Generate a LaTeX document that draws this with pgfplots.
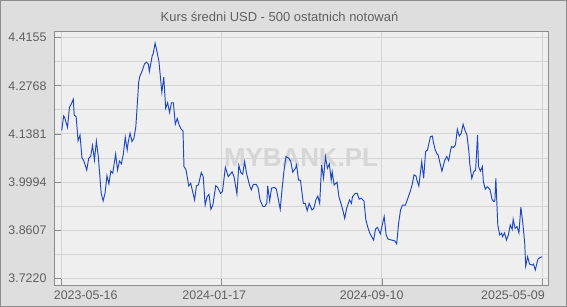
\documentclass[border=0pt]{standalone}
\usepackage{pgfplots}
\pgfplotsset{compat=1.18}
\usepackage{fontspec}
\setmainfont{Liberation Sans}
\definecolor{outerbg}{HTML}{DEDEDE}
\definecolor{plotbg}{HTML}{EFEFEF}
\definecolor{gridc}{HTML}{D4D4D4}
\definecolor{framec}{HTML}{8C8C8C}
\definecolor{textc}{HTML}{606060}
\definecolor{linec}{HTML}{1E48C0}
\definecolor{wmark}{HTML}{D6D6D6}
\begin{document}
\begin{tikzpicture}
\path[use as bounding box] (0bp,0bp) rectangle (567bp,307bp);
\fill[outerbg] (0bp,0bp) rectangle (567bp,307bp);
\draw[framec, line width=1bp] (0.5bp,0.5bp) rectangle (566.5bp,306.5bp);
\fill[plotbg] (54.7bp,22bp) rectangle (548.3bp,275.3bp);
\node[wmark, font=\fontsize{26}{26}\selectfont\bfseries] at (301bp,149bp) {MYBANK.PL};
\node[textc, font=\fontsize{13}{15}\selectfont] at (279.5bp,290bp) {Kurs średni USD - 500 ostatnich notowań};
\begin{axis}[
  at={(54.7bp,22bp)}, anchor=south west, scale only axis,
  width=493.6bp, height=253.3bp,
  xmin=-7.3, xmax=505.5, ymin=3.7027, ymax=4.4328,
  axis line style={framec, line width=1bp},
  tick style={framec, line width=0.8bp},
  major tick length=6bp, minor tick length=0pt,
  tick pos=left, tick align=inside,
  xtick={0,166.33,332.67,499}, minor x tick num=9, xticklabels={,,,},
  ytick={3.7220,3.8607,3.9994,4.1381,4.2768,4.4155}, minor y tick num=1,
  yticklabels={3.7220,3.8607,3.9994,4.1381,4.2768,4.4155},
  /pgf/number format/assume math mode=true,
  grid=both,
  major grid style={gridc, line width=1bp},
  minor grid style={gridc, line width=1bp},
  yticklabel style={textc, font=\fontsize{12.5}{14}\selectfont, inner sep=0pt, xshift=-8bp},
]
\addplot[linec, line width=0.95bp, mark=none] coordinates {
(0,4.148)(2,4.190)(3,4.186)(6,4.157)(8,4.215)(10,4.225)(12,4.238)(13,4.192)(15,4.188)
(17,4.118)(19,4.135)(21,4.070)(23,4.060)(26,4.034)(28,4.068)(30,4.073)(32,4.105)(34,4.063)
(36,4.117)(38,4.073)(41,3.967)(43,3.945)(45,3.967)(47,4.018)(49,3.994)(51,4.031)(53,4.025)
(56,4.080)(58,4.034)(60,4.060)(62,4.052)(64,4.080)(66,4.129)(68,4.092)(69,4.113)(71,4.140)
(73,4.116)(75,4.126)(77,4.159)(80,4.289)(81,4.303)(84,4.323)(86,4.340)(88,4.345)(90,4.339)
(91,4.318)(94,4.363)(95,4.369)(97,4.400)(99,4.375)(101,4.347)(104,4.258)(106,4.302)(108,4.212)
(110,4.228)(112,4.200)(114,4.228)(116,4.228)(118,4.166)(120,4.183)(122,4.164)(124,4.152)
(126,4.147)(127,4.044)(129,4.036)(132,3.988)(134,3.996)(136,3.972)(138,3.948)(140,3.989)
(142,3.991)(145,4.027)(147,4.015)(149,3.933)(151,3.957)(153,3.964)(155,3.921)(157,3.933)
(160,3.989)(162,3.984)(165,3.967)(167,3.972)(170,4.042)(173,4.015)(175,4.022)(177,4.029)
(179,4.015)(182,3.965)(184,4.048)(186,4.027)(188,4.022)(190,4.058)(192,4.025)(195,3.991)
(197,3.977)(199,3.993)(202,3.993)(204,3.983)(206,3.948)(209,3.929)(211,3.929)(213,3.938)
(214,3.988)(216,3.945)(218,3.982)(221,3.984)(223,3.979)(225,3.950)(227,3.921)(229,3.982)
(231,4.034)(233,4.073)(236,4.068)(238,4.058)(240,4.028)(243,4.040)(244,4.049)(246,4.005)
(248,4.005)(251,3.938)(253,3.938)(255,3.917)(257,3.938)(260,3.919)(262,3.924)(264,3.948)
(266,3.959)(268,3.938)(270,4.049)(272,4.010)(274,4.073)(276,4.039)(278,4.052)(280,4.005)
(281,4.029)(283,3.991)(286,3.999)(288,3.957)(290,3.938)(292,3.919)(294,3.895)(296,3.924)
(299,3.948)(301,3.938)(302,3.957)(305,3.967)(307,3.967)(309,3.950)(311,3.953)(314,3.945)
(316,3.890)(318,3.869)(320,3.852)(324,3.832)(326,3.864)(328,3.869)(331,3.850)(333,3.876)
(335,3.900)(337,3.847)(339,3.835)(343,3.832)(346,3.830)(348,3.821)(350,3.881)(352,3.919)
(354,3.933)(357,3.933)(359,3.948)(362,3.972)(364,3.991)(366,4.020)(368,4.017)(369,4.005)
(371,3.988)(374,4.058)(376,4.010)(378,4.087)(380,4.092)(383,4.130)(385,4.132)(386,4.116)
(388,4.092)(390,4.080)(391,4.078)(393,4.054)(395,4.031)(398,4.063)(400,4.073)(402,4.061)
(404,4.092)(405,4.102)(407,4.099)(409,4.106)(411,4.152)(413,4.132)(415,4.140)(417,4.166)
(419,4.148)(421,4.135)(423,4.087)(424,4.049)(426,4.010)(428,4.029)(430,4.034)(432,4.135)
(433,4.044)(435,4.031)(437,4.044)(438,4.001)(440,3.979)(442,3.986)(443,3.984)(445,3.977)
(447,3.950)(449,3.943)(450,3.946)(451,4.010)(453,3.876)(455,3.847)(457,3.852)(458,3.842)
(460,3.853)(462,3.832)(464,3.847)(466,3.876)(468,3.863)(469,3.892)(471,3.866)(473,3.871)
(475,3.853)(477,3.927)(479,3.881)(481,3.823)(482,3.757)(484,3.784)(486,3.763)(489,3.760)
(490,3.763)(492,3.746)(494,3.770)(495,3.778)(497,3.782)(499,3.784)
};
\end{axis}
\node[textc, font=\fontsize{12.5}{14}\selectfont] at (85.7bp,11.5bp) {2023-05-16};
\node[textc, font=\fontsize{12.5}{14}\selectfont] at (214.3bp,11.5bp) {2024-01-17};
\node[textc, font=\fontsize{12.5}{14}\selectfont] at (371.7bp,11.5bp) {2024-09-10};
\node[textc, font=\fontsize{12.5}{14}\selectfont] at (513bp,11.5bp) {2025-05-09};
\end{tikzpicture}
\end{document}
